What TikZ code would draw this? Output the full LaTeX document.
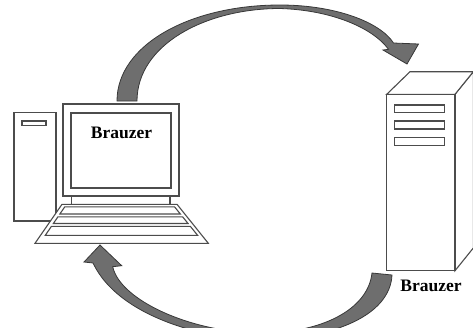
\documentclass[tikz,border=0pt]{standalone}
\usepackage{fontspec}
\setmainfont{Liberation Serif}
\begin{document}
\begin{tikzpicture}[x=1pt,y=-1pt,
  hw/.style={draw=black!70,line width=1.1pt,fill=white,line join=miter},
  flow/.style={fill=black!57,draw=black!78,line width=0.8pt,line join=miter},
  caption/.style={font=\fontsize{17.5}{20}\selectfont\bfseries,text=black,inner sep=0pt,anchor=base}]
\useasboundingbox (0,0) rectangle (473,335);

% request arrow: from the client up and over to the server
\path[flow] (117,101) .. controls (117,45) and (190,5) .. (280,5)
  .. controls (335,5) and (380,22) .. (393.5,43)
  -- (418.5,44) -- (407,64) -- (383,50) -- (388.5,49.3)
  .. controls (372,27) and (330,10) .. (280,8.5)
  .. controls (205,8.5) and (137,45) .. (137,101) -- cycle;

% response arrow: from the server down and back to the client
\begin{scope}
  \clip (0,0) rectangle (473,327.5);
  \path[flow] (372,273) -- (392,275)
    .. controls (390,315) and (335,338) .. (265,340)
    .. controls (215,341) and (120,320) .. (93,263)
    -- (84,262) -- (100,245) -- (121.7,265.7) -- (112.7,266.7)
    .. controls (120,300) and (190,332) .. (258,333)
    .. controls (320,334) and (368,310) .. (372,273) -- cycle;
\end{scope}

% client: tower
\draw[hw] (14,112.5) rectangle (56,221);
\draw[hw] (22,121) rectangle (46,125.7);

% client: monitor
\draw[hw] (63,104) rectangle (179,196);
\draw[hw] (71,113) rectangle (171,188);
\draw[hw] (71.5,196) rectangle (170,204.3);

% client: keyboard with three rows of keys
\draw[hw] (62,204.3) -- (177,204.3) -- (208.3,243.3) -- (35,243.3) -- cycle;
\foreach \ya/\yb in {206.8/214, 216.8/223.5, 226.3/235.3}{
  \draw[hw] ({62-0.684*(\ya-204.3)+4.5},\ya) -- ({177+0.81*(\ya-204.3)-4.5},\ya)
    -- ({177+0.81*(\yb-204.3)-4.5},\yb) -- ({62-0.684*(\yb-204.3)+4.5},\yb) -- cycle;
}

% server: box in perspective
\draw[hw] (455,94.3) -- (473.3,71.7) -- (473.3,248) -- (455,270.7) -- cycle;
\draw[hw] (386.7,94.3) -- (410,71.7) -- (473.3,71.7) -- (455,94.3) -- cycle;
\draw[hw] (386.7,94.3) rectangle (455,270.7);
\foreach \ya/\yb in {105/112.3, 121/129, 137.7/145.7}{
  \draw[hw] (394.3,\ya) rectangle (444.3,\yb);
}

% labels
\node[caption] (pclabel) at (121.5,138.3) {Brauzer};
\node[caption] (srvlabel) at (431,291.5) {Brauzer};
\end{tikzpicture}
\end{document}
